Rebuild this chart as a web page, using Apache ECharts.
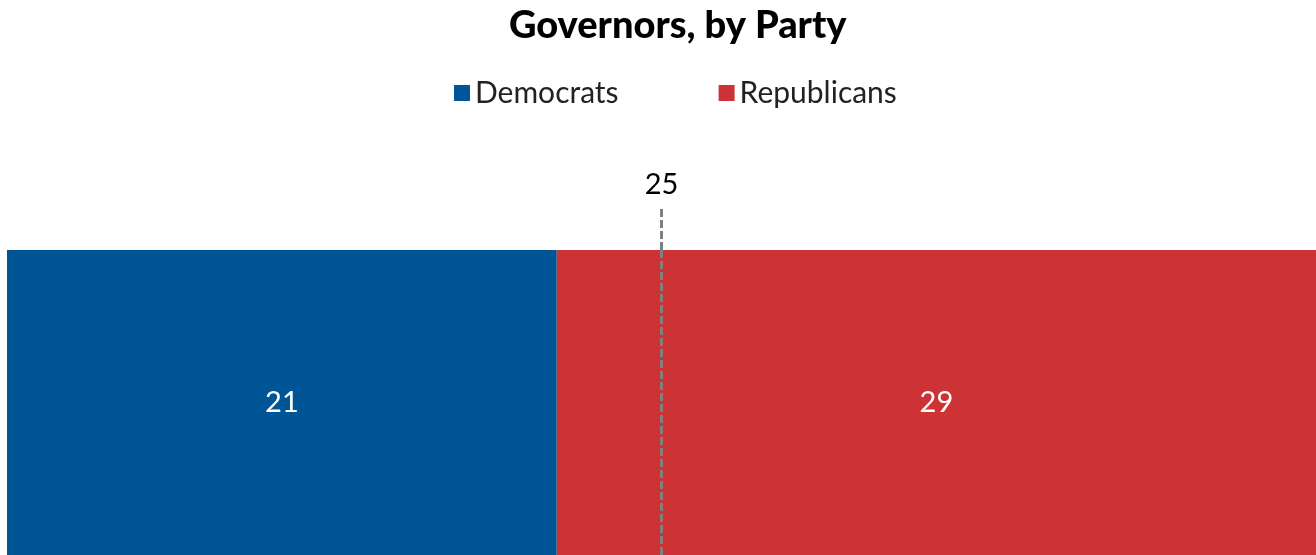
<!DOCTYPE html>
<html><head><meta charset="utf-8">
<script src="https://cdn.jsdelivr.net/npm/echarts@6/dist/echarts.min.js"></script>
<style>html,body{margin:0;padding:0;background:#fff}#c{width:1316px;height:555px}</style>
</head><body><div id="c"></div>
<script>
const categories = ['Governors'];
const democrats = [21];
const republicans = [29];
const majorityLine = 25;
const totalSeats = 50;

const chart = echarts.init(document.getElementById('c'));
const font = 'Lato, "Open Sans", sans-serif';
chart.setOption({
  animation: false,
  title: { text: 'Governors, by Party', left: 504, top: 2,
    textStyle: { fontFamily: font, fontWeight: 900, fontSize: 38, color: '#000' } },
  legend: { top: 73, left: 449, itemGap: 100, itemWidth: 16, itemHeight: 16, icon: 'rect',
    textStyle: { fontFamily: font, fontSize: 30, color: '#222' },
    data: ['Democrats', 'Republicans'] },
  grid: [
    { left: 7, right: -5, top: 250, bottom: -5 },
    { left: 7, right: -5, top: 207, height: 43 }
  ],
  xAxis: [
    { gridIndex: 0, type: 'value', min: 0, max: totalSeats, show: false },
    { gridIndex: 1, type: 'value', min: 0, max: totalSeats, show: false }
  ],
  yAxis: [
    { gridIndex: 0, type: 'category', data: categories, show: false },
    { gridIndex: 1, type: 'value', min: 0, max: 1, show: false }
  ],
  series: [
    { name: 'Democrats', type: 'bar', stack: 'a', data: democrats, barCategoryGap: '0%',
      itemStyle: { color: '#005596' },
      label: { show: true, position: 'inside', color: '#fff', fontFamily: font, fontSize: 29 } },
    { name: 'Republicans', type: 'bar', stack: 'a', data: republicans, barCategoryGap: '0%',
      itemStyle: { color: '#CD3334' },
      label: { show: true, position: 'inside', color: '#fff', fontFamily: font, fontSize: 29 },
      markLine: { silent: true, symbol: ['none', 'none'], label: { show: false },
        lineStyle: { color: '#808080', type: [8, 3], width: 3 },
        data: [{ xAxis: majorityLine }] } },
    { name: 'majority', type: 'line', xAxisIndex: 1, yAxisIndex: 1, data: [],
      markLine: { silent: true, symbol: ['none', 'none'],
        lineStyle: { color: '#808080', type: [8, 3], width: 3 },
        label: { show: true, position: 'end', formatter: String(majorityLine), color: '#000',
          fontFamily: font, fontSize: 29, distance: 8 },
        data: [{ xAxis: majorityLine }] } }
  ]
});
</script></body></html>
